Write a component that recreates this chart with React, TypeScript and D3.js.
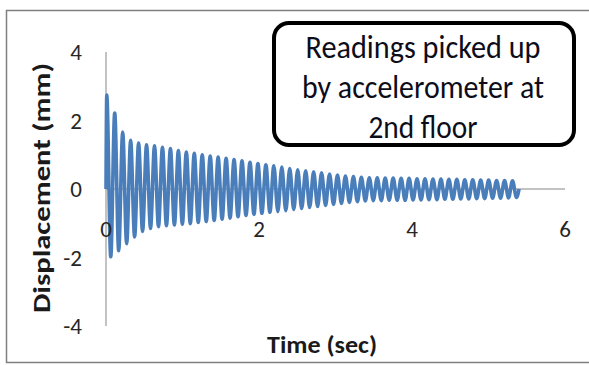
import React from "react";
import * as d3 from "d3";

// peak / trough readings of the 2nd floor displacement trace (sec, mm)
const peakTimes = [
  0.01, 0.114, 0.218, 0.322, 0.426, 0.53, 0.634, 0.738, 0.842, 0.946, 1.05,
  1.154, 1.258, 1.362, 1.466, 1.57, 1.674, 1.778, 1.882, 1.986, 2.09, 2.194,
  2.298, 2.402, 2.506, 2.61, 2.714, 2.818, 2.922, 3.026, 3.13, 3.234, 3.338,
  3.442, 3.546, 3.65, 3.754, 3.858, 3.962, 4.066, 4.17, 4.274, 4.378, 4.482,
  4.586, 4.69, 4.794, 4.898, 5.002, 5.106, 5.21, 5.314,
];
const peakValues = [
  2.74, 2.22, 1.66, 1.42, 1.34, 1.29, 1.26, 1.22, 1.18, 1.12, 1.08, 1.04, 1.0,
  0.96, 0.93, 0.9, 0.86, 0.82, 0.78, 0.74, 0.71, 0.68, 0.64, 0.6, 0.56, 0.53,
  0.5, 0.47, 0.44, 0.41, 0.38, 0.36, 0.34, 0.33, 0.33, 0.32, 0.32, 0.31, 0.31,
  0.3, 0.3, 0.29, 0.29, 0.28, 0.28, 0.27, 0.27, 0.26, 0.26, 0.25, 0.25, 0.24,
];
const troughTimes = [
  0.062, 0.166, 0.27, 0.374, 0.478, 0.582, 0.686, 0.79, 0.894, 0.998, 1.102,
  1.206, 1.31, 1.414, 1.518, 1.622, 1.726, 1.83, 1.934, 2.038, 2.142, 2.246,
  2.35, 2.454, 2.558, 2.662, 2.766, 2.87, 2.974, 3.078, 3.182, 3.286, 3.39,
  3.494, 3.598, 3.702, 3.806, 3.91, 4.014, 4.118, 4.222, 4.326, 4.43, 4.534,
  4.638, 4.742, 4.846, 4.95, 5.054, 5.158, 5.262, 5.366,
];
const troughValues = [
  -1.98, -1.8, -1.6, -1.4, -1.24, -1.15, -1.1, -1.07, -1.05, -1.03, -1.01,
  -0.98, -0.95, -0.92, -0.88, -0.85, -0.81, -0.77, -0.74, -0.71, -0.68, -0.66,
  -0.63, -0.6, -0.57, -0.54, -0.51, -0.48, -0.45, -0.42, -0.39, -0.37, -0.35,
  -0.34, -0.34, -0.33, -0.33, -0.33, -0.32, -0.32, -0.31, -0.31, -0.3, -0.3,
  -0.29, -0.29, -0.28, -0.28, -0.27, -0.27, -0.26, -0.25,
];
const startPoint: [number, number] = [0, 0];
const endPoint: [number, number] = [5.4, 0];

const xTicks = [0, 2, 4, 6];
const yTicks = [-4, -2, 0, 2, 4];
const noteLines = ["Readings picked up", "by accelerometer at", "2nd floor"];
const noteWidths = [235, 242, 109];

const font = "Carlito, Calibri, 'Open Sans', sans-serif";

export default function App() {
  const width = 589;
  const height = 365;

  const x = d3.scaleLinear().domain([0, 6]).range([106, 565]);
  const y = d3.scaleLinear().domain([-4, 4]).range([326, 52]);

  const points: [number, number][] = [startPoint];
  peakTimes.forEach((t, i) => {
    points.push([t, peakValues[i]]);
    points.push([troughTimes[i], troughValues[i]]);
  });
  points.push(endPoint);

  const line = d3
    .line<[number, number]>()
    .x((d) => x(d[0]))
    .y((d) => y(d[1]))
    .curve(d3.curveMonotoneX);

  return (
    <div style={{ position: "fixed", left: 0, top: 0 }}>
      <svg width={width} height={height} style={{ display: "block", background: "#fff" }}>
        {/* outer frame (right edge is off the picture) */}
        <path d="M620,10.5 H6.5 V362.5 H620" fill="none" stroke="#7f7f7f" strokeWidth={1.5} />

        {/* axes */}
        <line x1={x(0)} x2={x(0)} y1={y(4)} y2={y(-4)} stroke="#868686" strokeWidth={1} />
        <line x1={x(0)} x2={x(6)} y1={y(0)} y2={y(0)} stroke="#868686" strokeWidth={1} />

        {/* series */}
        <path d={line(points) || ""} fill="none" stroke="#4a7ebb" strokeWidth={3.6} strokeLinejoin="round" />

        {/* y tick labels */}
        {yTicks.map((t) => (
          <text key={`y-${t}`} x={82} y={y(t)} dy="0.36em" textAnchor="end" fontFamily={font} fontSize={23} fill="#262626">
            {t}
          </text>
        ))}

        {/* x tick labels */}
        {xTicks.map((t) => (
          <text key={`x-${t}`} x={x(t)} y={229} dy="0.36em" textAnchor="middle" fontFamily={font} fontSize={23} fill="#262626">
            {t}
          </text>
        ))}

        {/* axis titles */}
        <text
          transform={`translate(50,188) rotate(-90)`}
          textAnchor="middle"
          fontFamily={font}
          fontWeight="bold"
          fontSize={24}
          textLength={250}
          lengthAdjust="spacingAndGlyphs"
          fill="#1a1a1a"
        >
          Displacement (mm)
        </text>
        <text
          x={322}
          y={353}
          textAnchor="middle"
          fontFamily={font}
          fontWeight="bold"
          fontSize={24}
          textLength={110}
          lengthAdjust="spacingAndGlyphs"
          fill="#1a1a1a"
        >
          Time (sec)
        </text>

        {/* callout */}
        <rect x={274} y={23} width={300} height={122} rx={15} fill="#fff" stroke="#000" strokeWidth={4} />
        {noteLines.map((s, i) => (
          <text
            key={s}
            x={423}
            y={58 + i * 40}
            textAnchor="middle"
            fontFamily={font}
            fontSize={32}
            textLength={noteWidths[i]}
            lengthAdjust="spacingAndGlyphs"
            fill="#0d0d1a"
          >
            {s}
          </text>
        ))}
      </svg>
    </div>
  );
}
